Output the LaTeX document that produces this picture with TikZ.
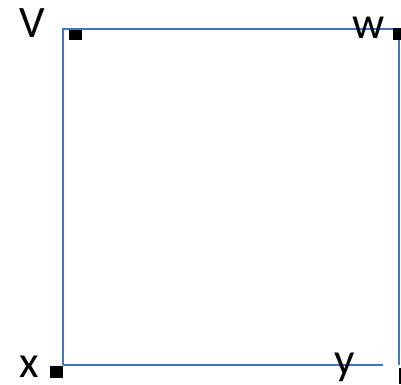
\documentclass[tikz,border=0pt]{standalone}
\usepackage{fontspec}
\setmainfont{Carlito}
\usepackage{tikz}
\usetikzlibrary{positioning}
\definecolor{edgeblue}{RGB}{68,114,196}
\tikzset{
  edge/.style={edgeblue,line width=1.5pt},
  marker/.style={fill=black,inner sep=0pt,minimum width=12pt,minimum height=12pt},
  vlabel/.style={font=\fontsize{45}{45}\selectfont,inner sep=0pt,anchor=base west}
}
\begin{document}
\begin{tikzpicture}[x=1pt,y=-1pt]
        \useasboundingbox (0,0) rectangle (401,384);
        % corners of the square
        \coordinate (v) at (63,29.2);
        \coordinate (w) at (399,29.2);
        \coordinate (x) at (63,365);
        \coordinate (yend) at (383,365);
        \coordinate (wend) at (399,365);
        \draw[edge] (x) -- (v) -- (w) -- (wend);
        \draw[edge] (x) -- (yend);
        % black markers
        \node[marker,minimum width=13pt,minimum height=10pt] (mv) at (75.5,35) {};
        \node[marker,minimum width=8pt,minimum height=12pt] (mw) at (397,33.5) {};
        \node[marker,minimum width=13pt,minimum height=12pt] (mx) at (56,371.5) {};
        \node[marker,minimum width=3pt,minimum height=16pt] (my) at (400,376) {};
        % labels
        \node[vlabel] (lv) at (19.5,37) {V};
        \node[vlabel] (lw) at (352,38) {w};
        \node[vlabel] (lx) at (19.5,377) {x};
        \node[vlabel] (ly) at (334,374) {y};
\end{tikzpicture}
\end{document}
